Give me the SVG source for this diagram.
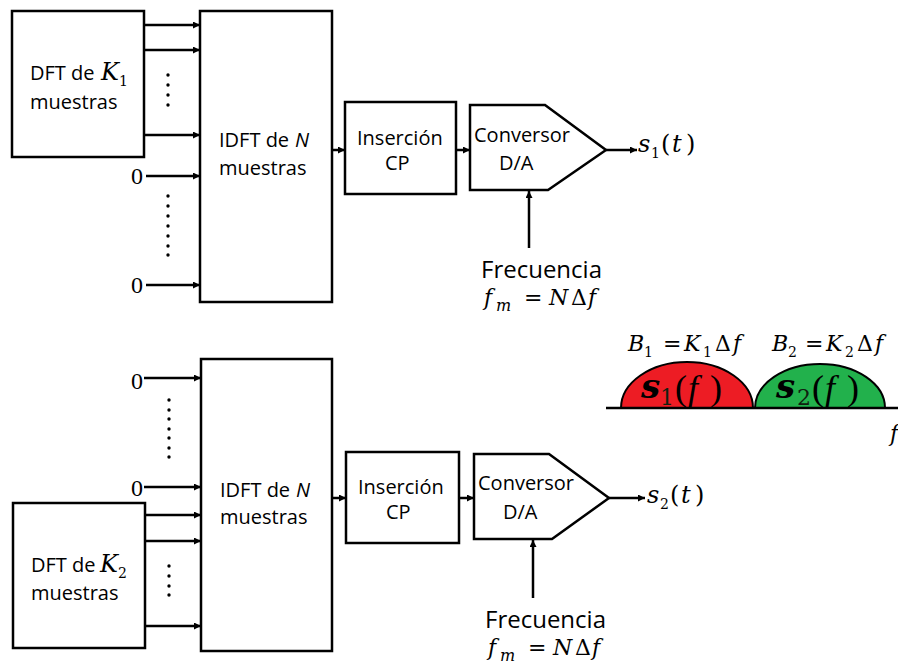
<svg xmlns="http://www.w3.org/2000/svg" width="898" height="666" viewBox="0 0 898 666">
<style>
.box{fill:#fff;stroke:#000;stroke-width:2.5}
.ln{stroke:#000;stroke-width:2.5;fill:none}
.t{font-family:"Open Sans","Noto Sans",sans-serif;font-size:20px;fill:#000}
.ti{font-family:"Open Sans","Noto Sans",sans-serif;font-size:20px;font-style:italic;fill:#000}
.tb{font-family:"Open Sans","Noto Sans",sans-serif;font-size:24px;fill:#000}
.m{font-family:"DejaVu Serif","Liberation Serif",serif;font-style:italic;font-size:22px;fill:#000}
.mt{font-family:"DejaVu Serif","Liberation Serif",serif;font-style:italic;font-size:24px;fill:#000}
.r{font-family:"DejaVu Serif","Liberation Serif",serif;font-size:22px;fill:#000}
.rt{font-family:"DejaVu Serif","Liberation Serif",serif;font-size:24px;fill:#000}
.z{font-family:"Liberation Serif","DejaVu Serif",serif;font-size:24px;fill:#000}
.s{font-family:"DejaVu Serif","Liberation Serif",serif;font-size:14px;fill:#000}
.si{font-family:"DejaVu Serif","Liberation Serif",serif;font-size:16px;font-style:italic;fill:#000}
.bs{font-family:"DejaVu Serif","Liberation Serif",serif;font-style:italic;font-weight:bold;font-size:34px;fill:#000}
.bd{font-family:"DejaVu Serif","Liberation Serif",serif;font-size:22px;fill:#102010}
.bp{font-family:"Liberation Serif","DejaVu Serif",serif;font-size:36px;fill:#000}
.bf{font-family:"Liberation Serif","DejaVu Serif",serif;font-style:italic;font-size:36px;fill:#000}
.dot{fill:#000}
</style>
<defs>
<marker id="ah" markerUnits="userSpaceOnUse" markerWidth="8" markerHeight="8" refX="7" refY="3.5" orient="auto">
<path d="M0,0 L7,3.5 L0,7 z" fill="#000"/>
</marker>
</defs>

<g id="connectors">
<line class="ln" x1="144" y1="25" x2="200" y2="25" marker-end="url(#ah)"/>
<line class="ln" x1="144" y1="50" x2="200" y2="50" marker-end="url(#ah)"/>
<line class="ln" x1="144" y1="135" x2="200" y2="135" marker-end="url(#ah)"/>
<line class="ln" x1="146" y1="176" x2="200" y2="176" marker-end="url(#ah)"/>
<line class="ln" x1="146" y1="285" x2="200" y2="285" marker-end="url(#ah)"/>
<line class="ln" x1="332" y1="150" x2="345" y2="150" marker-end="url(#ah)"/>
<line class="ln" x1="456" y1="150" x2="470" y2="150" marker-end="url(#ah)"/>
<line class="ln" x1="606" y1="150" x2="637" y2="150" marker-end="url(#ah)"/>
<line class="ln" x1="529" y1="248" x2="529" y2="191" marker-end="url(#ah)"/>

<line class="ln" x1="144" y1="378" x2="201" y2="378" marker-end="url(#ah)"/>
<line class="ln" x1="144" y1="487" x2="201" y2="487" marker-end="url(#ah)"/>
<line class="ln" x1="145" y1="515" x2="201" y2="515" marker-end="url(#ah)"/>
<line class="ln" x1="145" y1="541" x2="201" y2="541" marker-end="url(#ah)"/>
<line class="ln" x1="145" y1="626" x2="201" y2="626" marker-end="url(#ah)"/>
<line class="ln" x1="332" y1="498" x2="346" y2="498" marker-end="url(#ah)"/>
<line class="ln" x1="459" y1="498" x2="474" y2="498" marker-end="url(#ah)"/>
<line class="ln" x1="609" y1="498" x2="645" y2="498" marker-end="url(#ah)"/>
<line class="ln" x1="533" y1="598" x2="533" y2="540" marker-end="url(#ah)"/>
</g>

<g id="dots">
<circle class="dot" cx="168" cy="75" r="1.7"/>
<circle class="dot" cx="168" cy="85" r="1.7"/>
<circle class="dot" cx="168" cy="95" r="1.7"/>
<circle class="dot" cx="168" cy="105" r="1.7"/>
<circle class="dot" cx="168" cy="196" r="1.7"/>
<circle class="dot" cx="168" cy="206" r="1.7"/>
<circle class="dot" cx="168" cy="216" r="1.7"/>
<circle class="dot" cx="168" cy="226" r="1.7"/>
<circle class="dot" cx="168" cy="236" r="1.7"/>
<circle class="dot" cx="168" cy="246" r="1.7"/>
<circle class="dot" cx="168" cy="255" r="1.7"/>

<circle class="dot" cx="169" cy="400" r="1.7"/>
<circle class="dot" cx="169" cy="410" r="1.7"/>
<circle class="dot" cx="169" cy="419" r="1.7"/>
<circle class="dot" cx="169" cy="429" r="1.7"/>
<circle class="dot" cx="169" cy="438" r="1.7"/>
<circle class="dot" cx="169" cy="448" r="1.7"/>
<circle class="dot" cx="169" cy="457" r="1.7"/>
<circle class="dot" cx="169" cy="566" r="1.7"/>
<circle class="dot" cx="169" cy="576" r="1.7"/>
<circle class="dot" cx="169" cy="586" r="1.7"/>
<circle class="dot" cx="169" cy="595" r="1.7"/>
</g>

<g id="zeros">
<text class="z" x="131" y="184">0</text>
<text class="z" x="131" y="293">0</text>
<text class="z" x="131" y="389">0</text>
<text class="z" x="131" y="496">0</text>
</g>

<g id="dft1">
<rect class="box" x="12" y="11" width="132" height="146"/>
<text class="t" x="30" y="80">DFT de</text>
<text class="mt" x="101" y="80">K</text>
<text class="s" x="119" y="86">1</text>
<text class="t" x="30" y="109">muestras</text>
</g>

<g id="idft1">
<rect class="box" x="200" y="11" width="132" height="291"/>
<text class="t" x="219" y="147">IDFT de</text>
<text class="ti" x="295" y="147">N</text>
<text class="t" x="219" y="175">muestras</text>
</g>

<g id="cp1">
<rect class="box" x="345" y="102" width="111" height="92"/>
<text class="t" x="357" y="145">Inserción</text>
<text class="t" x="385" y="170">CP</text>
</g>

<g id="dac1">
<polygon class="box" points="470,105 545,105 606,150 548,190 470,190"/>
<text class="t" x="474" y="142">Conversor</text>
<text class="t" x="499" y="170">D/A</text>
</g>

<g id="out1">
<text class="mt" x="638" y="152">s</text>
<text class="s" x="651" y="158">1</text>
<text class="rt" x="661" y="152">(</text>
<text class="mt" x="672" y="152">t</text>
<text class="rt" x="686" y="152">)</text>
</g>

<g id="freq1">
<text class="tb" x="481" y="278">Frecuencia</text>
<text class="m" x="484" y="305">f</text>
<text class="si" x="496" y="311">m</text>
<text class="r" x="524" y="305">=</text>
<text class="m" x="549" y="305">N</text>
<text class="r" x="571" y="305">Δ</text>
<text class="m" x="588" y="305">f</text>
</g>

<g id="dft2">
<rect class="box" x="13" y="503" width="132" height="145"/>
<text class="t" x="31" y="572">DFT de</text>
<text class="mt" x="100" y="572">K</text>
<text class="s" x="118" y="578">2</text>
<text class="t" x="31" y="600">muestras</text>
</g>

<g id="idft2">
<rect class="box" x="201" y="359" width="131" height="292"/>
<text class="t" x="220" y="497">IDFT de</text>
<text class="ti" x="296" y="497">N</text>
<text class="t" x="220" y="524">muestras</text>
</g>

<g id="cp2">
<rect class="box" x="346" y="452" width="113" height="91"/>
<text class="t" x="358" y="494">Inserción</text>
<text class="t" x="386" y="519">CP</text>
</g>

<g id="dac2">
<polygon class="box" points="474,454 549,454 609,498 552,539 474,539"/>
<text class="t" x="478" y="490">Conversor</text>
<text class="t" x="503" y="519">D/A</text>
</g>

<g id="out2">
<text class="mt" x="647" y="503">s</text>
<text class="s" x="660" y="509">2</text>
<text class="rt" x="670" y="503">(</text>
<text class="mt" x="681" y="503">t</text>
<text class="rt" x="695" y="503">)</text>
</g>

<g id="freq2">
<text class="tb" x="485" y="628">Frecuencia</text>
<text class="m" x="488" y="655">f</text>
<text class="si" x="500" y="661">m</text>
<text class="r" x="528" y="655">=</text>
<text class="m" x="553" y="655">N</text>
<text class="r" x="575" y="655">Δ</text>
<text class="m" x="592" y="655">f</text>
</g>

<g id="spectrum">
<path d="M621,408 A66,46 0 0 1 753,408 Z" fill="#ED1C24" stroke="#000" stroke-width="2"/>
<path d="M755,408 A65,44 0 0 1 885,408 Z" fill="#22B14C" stroke="#000" stroke-width="2"/>
<line class="ln" x1="606" y1="408" x2="898" y2="408"/>
<text class="bs" x="641" y="398">s</text>
<text class="bd" x="660" y="405">1</text>
<text class="bp" x="675" y="400">(</text>
<text class="bf" x="688" y="400">f</text>
<text class="bp" x="710" y="400">)</text>
<text class="bs" x="776" y="398">s</text>
<text class="bd" x="797" y="405">2</text>
<text class="bp" x="812" y="400">(</text>
<text class="bf" x="825" y="400">f</text>
<text class="bp" x="847" y="400">)</text>
<text class="m" x="628" y="351">B</text>
<text class="s" x="644" y="357">1</text>
<text class="r" x="663" y="351">=</text>
<text class="m" x="684" y="351">K</text>
<text class="s" x="703" y="357">1</text>
<text class="r" x="715" y="351">Δ</text>
<text class="m" x="733" y="351">f</text>
<text class="m" x="772" y="351">B</text>
<text class="s" x="788" y="357">2</text>
<text class="r" x="805" y="351">=</text>
<text class="m" x="826" y="351">K</text>
<text class="s" x="845" y="357">2</text>
<text class="r" x="857" y="351">Δ</text>
<text class="m" x="875" y="351">f</text>
<text class="m" x="890" y="441">f</text>
</g>
</svg>
